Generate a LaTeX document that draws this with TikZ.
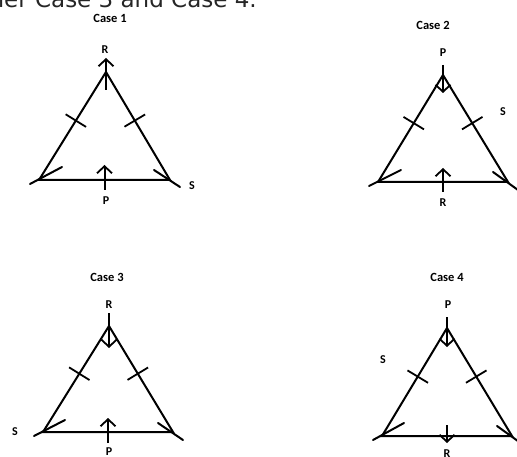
\documentclass[tikz,border=0pt]{standalone}
\usepackage{fontspec}
\setmainfont{Carlito}
\newfontfamily\topfont{DejaVu Sans}
\usetikzlibrary{arrows.meta,calc}

\begin{document}
\begin{tikzpicture}[x=1pt, y=-1pt,
    side/.style={line width=2pt, line cap=round},
    force/.style={line width=2pt, -{Straight Barb[length=7pt,width=15pt,line width=1.8pt]}},
    tick/.style={line width=1.8pt},
    casename/.style={font=\bfseries\fontsize{12.5}{14}\selectfont, inner sep=0pt},
    ptname/.style={font=\bfseries\fontsize{12}{14}\selectfont, inner sep=0pt}]
  \useasboundingbox (0,0) rectangle (517,457);
  \clip (0,0) rectangle (517,457);

  \node[anchor=base east, inner sep=0pt, font=\topfont\fontsize{23}{27}\selectfont, text=black!85] (toptext) at (257,8) {either Case 3 and Case 4.};

  % Case 1
  \coordinate (A1) at (106,72);
  \coordinate (B1) at (39,180);
  \coordinate (C1) at (170,180);
  \coordinate (M1) at ($(B1)!0.5!(C1)$);
  \draw[side] (A1) -- (B1) -- (C1) -- cycle;
  \draw[side] ($(B1)+(-9,4)$) -- ($(B1)+(23,-13)$);
  \draw[side] ($(C1)+(-16,-10)$) -- ($(C1)+(10,7)$);
  \draw[tick] ($($(B1)!0.55!(A1)$)!12pt!90:(A1)$) -- ($($(B1)!0.55!(A1)$)!12pt!-90:(A1)$);
  \draw[tick] ($($(C1)!0.55!(A1)$)!12pt!90:(A1)$) -- ($($(C1)!0.55!(A1)$)!12pt!-90:(A1)$);
  \draw[force] ($(A1)+(0,18)$) -- ($(A1)+(0,-14)$);
  \draw[force] ($(M1)+(0,10)$) -- ($(M1)+(0,-15)$);
  \node[casename] (case1) at (110,18) {Case 1};
  \node[ptname] (r1) at (105,50) {R};
  \node[ptname] (p1) at (106,201) {P};
  \node[ptname] (s1) at (192,186) {S};

  % Case 2
  \coordinate (A2) at (443,75);
  \coordinate (B2) at (378,182);
  \coordinate (C2) at (508,182);
  \coordinate (M2) at ($(B2)!0.5!(C2)$);
  \draw[side] (A2) -- (B2) -- (C2) -- cycle;
  \draw[side] ($(B2)+(-9,4)$) -- ($(B2)+(23,-12)$);
  \draw[side] ($(C2)+(-15,-10)$) -- ($(C2)+(10,8)$);
  \draw[tick] ($($(B2)!0.55!(A2)$)!12pt!90:(A2)$) -- ($($(B2)!0.55!(A2)$)!12pt!-90:(A2)$);
  \draw[tick] ($($(C2)!0.55!(A2)$)!12pt!90:(A2)$) -- ($($(C2)!0.55!(A2)$)!12pt!-90:(A2)$);
  \draw[force] ($(A2)+(0,-10)$) -- ($(A2)+(0,18)$);
  \draw[force] ($(M2)+(0,10)$) -- ($(M2)+(0,-14)$);
  \node[casename] (case2) at (433,25) {Case 2};
  \node[ptname] (p2) at (443,53) {P};
  \node[ptname] (s2) at (503,112) {S};
  \node[ptname] (r2) at (443,203) {R};

  % Case 3
  \coordinate (A3) at (109,326);
  \coordinate (B3) at (43,432);
  \coordinate (C3) at (173,432);
  \coordinate (M3) at ($(B3)!0.5!(C3)$);
  \draw[side] (A3) -- (B3) -- (C3) -- cycle;
  \draw[side] ($(B3)+(-9,4)$) -- ($(B3)+(22,-12)$);
  \draw[side] ($(C3)+(-15,-9)$) -- ($(C3)+(10,8)$);
  \draw[tick] ($($(B3)!0.55!(A3)$)!12pt!90:(A3)$) -- ($($(B3)!0.55!(A3)$)!12pt!-90:(A3)$);
  \draw[tick] ($($(C3)!0.55!(A3)$)!12pt!90:(A3)$) -- ($($(C3)!0.55!(A3)$)!12pt!-90:(A3)$);
  \draw[force] ($(A3)+(0,-13)$) -- ($(A3)+(0,22)$);
  \draw[force] ($(M3)+(0,11)$) -- ($(M3)+(0,-14)$);
  \node[casename] (case3) at (107,277) {Case 3};
  \node[ptname] (r3) at (109,305) {R};
  \node[ptname] (s3) at (15,432) {S};
  \node[ptname] (p3) at (109,452) {P};

  % Case 4
  \coordinate (A4) at (447,328);
  \coordinate (B4) at (382,436);
  \coordinate (C4) at (512,436);
  \coordinate (M4) at ($(B4)!0.5!(C4)$);
  \draw[side] (A4) -- (B4) -- (C4) -- cycle;
  \draw[side] ($(B4)+(-9,4)$) -- ($(B4)+(22,-13)$);
  \draw[side] ($(C4)+(-15,-10)$) -- ($(C4)+(10,8)$);
  \draw[tick] ($($(B4)!0.55!(A4)$)!12pt!90:(A4)$) -- ($($(B4)!0.55!(A4)$)!12pt!-90:(A4)$);
  \draw[tick] ($($(C4)!0.55!(A4)$)!12pt!90:(A4)$) -- ($($(C4)!0.55!(A4)$)!12pt!-90:(A4)$);
  \draw[force] ($(A4)+(0,-11)$) -- ($(A4)+(0,19)$);
  \draw[force] ($(M4)+(0,-11)$) -- ($(M4)+(0,7)$);
  \node[casename] (case4) at (447,277) {Case 4};
  \node[ptname] (p4) at (448,305) {P};
  \node[ptname] (s4) at (383,360) {S};
  \node[ptname] (r4) at (447,454) {R};
\end{tikzpicture}
\end{document}
